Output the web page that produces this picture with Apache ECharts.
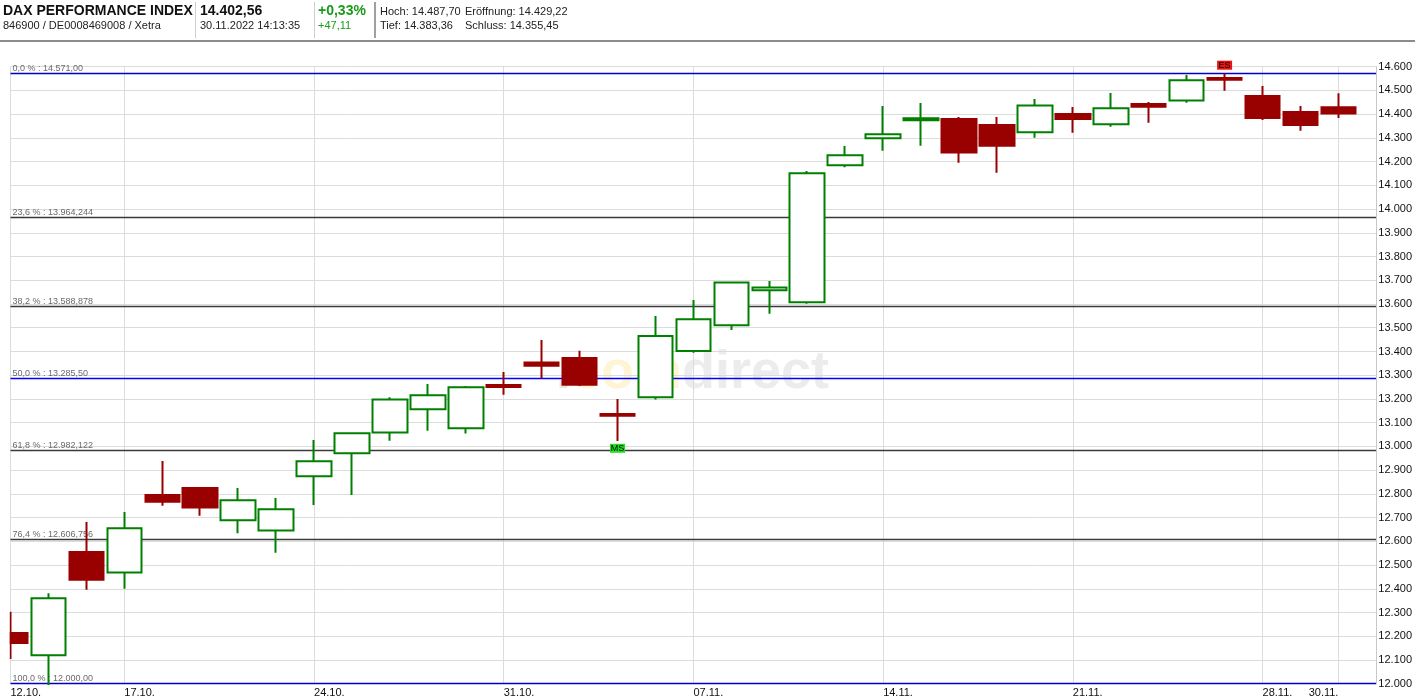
<!DOCTYPE html>
<html><head><meta charset="utf-8">
<script src="https://cdn.jsdelivr.net/npm/echarts@6/dist/echarts.min.js"></script>
<style>html,body{margin:0;padding:0;background:#fff}#c{width:1415px;height:700px}</style>
</head><body><div id="c"></div>
<script>
const dates = ['12.10.','13.10.','14.10.','17.10.','18.10.','19.10.','20.10.','21.10.','24.10.','25.10.','26.10.','27.10.','28.10.','31.10.',
  '01.11.','02.11.','03.11.','04.11.','07.11.','08.11.','09.11.','10.11.','11.11.','14.11.','15.11.','16.11.','17.11.','18.11.',
  '21.11.','22.11.','23.11.','24.11.','25.11.','28.11.','29.11.','30.11.'];
const opens  = [12214,12120,12555,12469,12795,12825,12689,12646,12874,12971,13059,13156,13076,13259,13353,13372,13137,13207,
  13402,13510,13658,13607,14185,14298,14374,14380,14354,14324,14401,14357,14443,14458,14552,14477,14409,14429.22];
const closes = [12171,12360,12438,12655,12767,12742,12773,12735,12937,13055,13198,13215,13249,13250,13340,13260,13129,13465,
  13536,13691,13670,14151,14227,14315,14383,14238,14267,14437,14380,14425,14431,14543,14545,14384,14354,14402.56];
const lows   = [12104,11870,12396,12400,12750,12708,12634,12552,12753,12795,13024,13066,13054,13218,13287,13254,13023,13198,
  13395,13490,13559,13601,14176,14246,14267,14195,14153,14301,14322,14347,14364,14448,14499,14375,14330,14383.36];
const highs  = [12303,12381,12681,12724,12938,12828,12825,12783,13027,13058,13207,13263,13254,13313,13448,13403,13200,13549,
  13617,13693,13697,14160,14266,14434,14447,14388,14388,14464,14430,14489,14451,14565,14571,14519,14434,14487.70];
const labelIdx = [0,3,8,13,18,23,28,33,35];
const yMin = 12000, yMax = 14600, yStep = 100;
const fibValues = [14571, 13964.244, 13588.878, 13285.5, 12982.122, 12606.756, 12000];
const fibLabels = ['0,0 % : 14.571,00','23,6 % : 13.964,244','38,2 % : 13.588,878','50,0 % : 13.285,50','61,8 % : 12.982,122','76,4 % : 12.606,756','100,0 % : 12.000,00'];
const fibColors = ['#0000c8','#3a3a3a','#3a3a3a','#0000ff','#3a3a3a','#3a3a3a','#0000c8'];
const markers = [{name:'ES', idx:32, value:14600, offset:-1.5, color:'#ee1111'},{name:'MS', idx:16, value:12992, offset:0, color:'#22dd22'}];

const cats = dates.concat(['']);
const candles = dates.map((d,i)=>[opens[i],closes[i],lows[i],highs[i]]);
const fmtY = v => String(v).replace(/\B(?=(\d{3})+(?!\d))/g,'.');
const F = 'Liberation Sans, Arial, sans-serif';
const noAxis = {axisLine:{show:false}, axisTick:{show:false}};

const chart = echarts.init(document.getElementById('c'));
chart.setOption({
  animation:false,
  backgroundColor:'#fff',
  grid:{left:10.5,right:38.5,top:66.7,bottom:16.3,containLabel:false},
  xAxis:[{
    type:'category', data:cats, boundaryGap:false, z:0, ...noAxis,
    axisLabel:{show:false},
    splitLine:{show:true, interval:(i)=>labelIdx.indexOf(i)>=0, lineStyle:{color:'#dcdcdc',width:1}}
  },{
    type:'category', data:cats, boundaryGap:false, position:'bottom', z:30, ...noAxis, splitLine:{show:false},
    axisLabel:{interval:(i)=>labelIdx.indexOf(i)>=0 && i!==35, align:'left', margin:4, fontSize:11, color:'#111', fontFamily:F}
  },{
    type:'category', data:cats, boundaryGap:false, position:'bottom', z:30, ...noAxis, splitLine:{show:false},
    axisLabel:{interval:(i)=>i===35, align:'right', margin:4, fontSize:11, color:'#111', fontFamily:F}
  }],
  yAxis:[{
    type:'value', position:'right', min:yMin, max:yMax, interval:yStep, z:0, ...noAxis,
    axisLabel:{show:false},
    splitLine:{show:true, lineStyle:{color:'#dcdcdc',width:1}}
  },{
    type:'value', position:'right', min:yMin, max:yMax, interval:yStep, z:30,
    axisLine:{show:true, lineStyle:{color:'#c8c8c8'}}, axisTick:{show:false}, splitLine:{show:false},
    axisLabel:{formatter:fmtY, fontSize:11, color:'#111', margin:2, fontFamily:F}
  }],
  graphic:[
    {type:'text', x:556, y:373, z:-10, silent:true, style:{text:'{d|.}{a|com}{b|direct}', textVerticalAlign:'middle',
      rich:{d:{fontSize:54,fontWeight:'bold',fontFamily:F,fill:'#e6e6e6',color:'#e6e6e6'},
            a:{fontSize:54,fontWeight:'bold',fontFamily:F,fill:'#fff4d4',color:'#fff4d4'},
            b:{fontSize:54,fontWeight:'bold',fontFamily:F,fill:'#ececec',color:'#ececec'}}}},
    {type:'rect', z:20, silent:true, shape:{x:0,y:43,width:9.6,height:657}, style:{fill:'#fff'}},
    {type:'rect', z:20, silent:true, shape:{x:0,y:685,width:1415,height:15}, style:{fill:'#fff'}},
    {type:'rect', shape:{x:0,y:40,width:1415,height:2}, style:{fill:'#8c8c8c'}},
    {type:'line', shape:{x1:195.5,y1:2,x2:195.5,y2:38}, style:{stroke:'#cfcfcf',lineWidth:1}},
    {type:'line', shape:{x1:314.5,y1:2,x2:314.5,y2:38}, style:{stroke:'#cfcfcf',lineWidth:1}},
    {type:'line', shape:{x1:375,y1:2,x2:375,y2:38}, style:{stroke:'#a0a0a0',lineWidth:2}},
    {type:'text', x:3, y:11, style:{text:'DAX PERFORMANCE INDEX', font:'bold 14px '+F, fill:'#111', textVerticalAlign:'middle'}},
    {type:'text', x:3, y:26, style:{text:'846900 / DE0008469008 / Xetra', font:'11px '+F, fill:'#222', textVerticalAlign:'middle'}},
    {type:'text', x:200, y:11, style:{text:'14.402,56', font:'bold 14px '+F, fill:'#111', textVerticalAlign:'middle'}},
    {type:'text', x:200, y:26, style:{text:'30.11.2022 14:13:35', font:'11px '+F, fill:'#222', textVerticalAlign:'middle'}},
    {type:'text', x:318, y:11, style:{text:'+0,33%', font:'bold 14px '+F, fill:'#1a9a1a', textVerticalAlign:'middle'}},
    {type:'text', x:318, y:26, style:{text:'+47,11', font:'11px '+F, fill:'#1a9a1a', textVerticalAlign:'middle'}},
    {type:'text', x:380, y:12, style:{text:'Hoch: 14.487,70', font:'11px '+F, fill:'#222', textVerticalAlign:'middle'}},
    {type:'text', x:465, y:12, style:{text:'Eröffnung: 14.429,22', font:'11px '+F, fill:'#222', textVerticalAlign:'middle'}},
    {type:'text', x:380, y:26, style:{text:'Tief: 14.383,36', font:'11px '+F, fill:'#222', textVerticalAlign:'middle'}},
    {type:'text', x:465, y:26, style:{text:'Schluss: 14.355,45', font:'11px '+F, fill:'#222', textVerticalAlign:'middle'}}
  ],
  series:[{
    type:'candlestick', data:candles, xAxisIndex:0, yAxisIndex:0, barWidth:35, clip:true, z:5,
    itemStyle:{color:'#ffffff', color0:'#990000', borderColor:'#008000', borderColor0:'#990000', borderWidth:2},
    markLine:{
      silent:true, symbol:['none','none'], animation:false,
      data: fibValues.map((v,i)=>({yAxis:v, lineStyle:{color:fibColors[i], width:1.3, type:'solid'},
        label:{show:true, position:'insideStartTop', formatter:fibLabels[i], color:'#6a6a6a', fontSize:9, fontFamily:F, distance:[2,1]}}))
    },
    markPoint:{
      silent:true, animation:false,
      data: markers.map(m=>({coord:[m.idx, m.value], symbol:'rect', symbolSize:[15,9], symbolOffset:[0,m.offset], itemStyle:{color:m.color},
        label:{show:true, position:'inside', formatter:m.name, color:'#000', fontSize:9, fontFamily:F}}))
    }
  }]
});
</script></body></html>
